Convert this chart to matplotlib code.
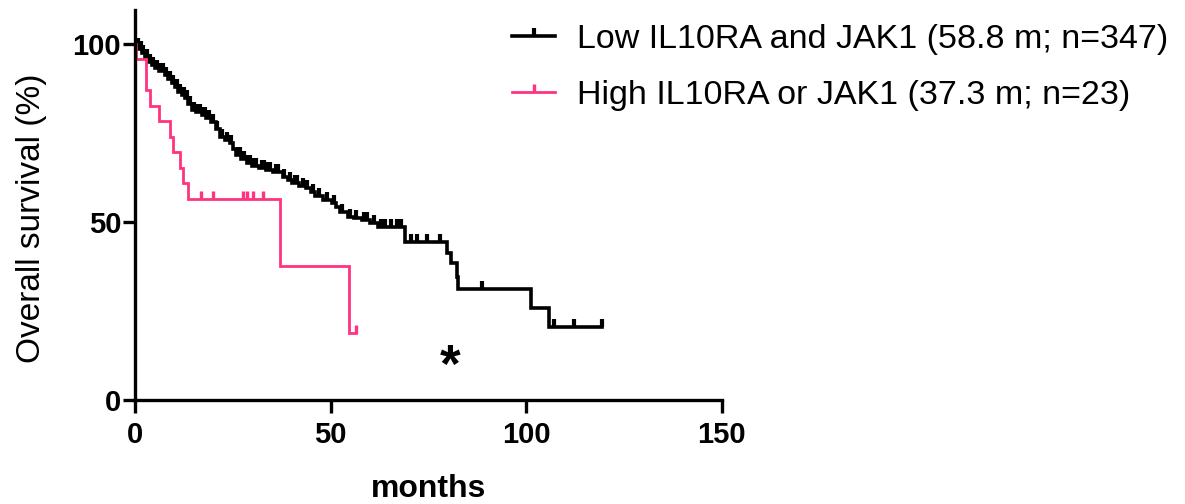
import numpy as np
import matplotlib
matplotlib.use('Agg')
import matplotlib.pyplot as plt
from matplotlib.path import Path
from matplotlib.lines import Line2D

plt.rcParams['font.family'] = ['Liberation Sans', 'DejaVu Sans']

# Low IL10RA and JAK1: event times (months) and survival (%) after each step
low_t = [0, 0.5, 1.0, 1.8, 2.5, 3.5, 4.3, 5.2, 6.2, 7.7, 8.5, 9.4, 10.2, 11.1, 12.0,
         12.8, 13.6, 14.5, 15.5, 17.0, 18.2, 19.5, 20.6, 21.7, 23.0, 24.2, 25.0, 25.9,
         27.2, 28.5, 30.0, 31.8, 33.5, 35.2, 37.7, 39.0, 40.2, 42.0, 43.6, 45.0, 46.1,
         48.0, 50.3, 51.5, 52.4, 54.5, 56.0, 57.9, 60.0, 62.1, 69.0, 79.8, 80.9, 82.2,
         82.7, 101.3, 105.9]
low_s = [100, 99.4, 98.5, 97.4, 96.3, 95.0, 94.1, 93.2, 92.3, 91.3, 90.2, 89.0, 87.8,
         86.6, 85.6, 84.7, 83.1, 81.5, 80.8, 80.0, 79.1, 78.2, 76.0, 73.9, 73.0, 72.1,
         70.5, 68.8, 67.6, 66.5, 65.8, 65.1, 64.6, 64.1, 62.7, 61.8, 60.9, 60.2, 59.5,
         58.4, 57.3, 56.3, 55.3, 54.1, 52.9, 51.5, 51.0, 50.6, 49.6, 48.7, 44.5, 41.2,
         38.4, 34.6, 31.1, 25.9, 20.6]
low_cens = [0.8, 1.4, 2.1, 3.0, 3.9, 4.7, 5.6, 6.6, 7.1, 8.0, 9.0, 9.8, 10.6, 11.5, 12.4,
            13.2, 14.0, 15.0, 16.0, 16.5, 17.5, 18.0, 18.7, 19.0, 20.0, 21.0, 22.3, 23.5,
            24.6, 26.3, 26.8, 27.8, 29.0, 29.5, 30.5, 31.0, 32.5, 33.0, 34.0, 34.5, 36.0,
            36.5, 38.2, 39.5, 41.0, 41.5, 43.0, 44.0, 45.5, 47.0, 49.0, 50.8, 53.0, 55.0,
            56.5, 58.5, 59.2, 61.0, 63.0, 64.0, 65.5, 67.0, 68.0, 70.5, 72.2, 74.7, 78.0,
            88.6, 107.2, 112.3, 119.4]

# High IL10RA or JAK1
high_t = [0, 0.3, 2.85, 3.7, 6.1, 8.8, 9.7, 11.5, 12.2, 13.5, 37.0, 54.8]
high_s = [100, 95.7, 87.0, 82.6, 78.3, 73.9, 69.6, 65.2, 60.9, 56.5, 37.7, 18.8]
high_cens = [16.9, 19.8, 27.6, 28.5, 30.1, 32.6, 56.5]

labels = ['Low IL10RA and JAK1 (58.8 m; n=347)', 'High IL10RA or JAK1 (37.3 m; n=23)']
colors = ['black', '#FF3380']
widths = [2.6, 2.0]

tick = Path([(0, 0), (0, 1)], [Path.MOVETO, Path.LINETO])

fig = plt.figure(figsize=(11.85, 5.04), dpi=100)
ax = fig.add_axes([0.114, 0.206, 0.495, 0.774])

handles = []
for t, s, c, col, lw, lab in [(low_t, low_s, low_cens, colors[0], widths[0], labels[0]),
                              (high_t, high_s, high_cens, colors[1], widths[1], labels[1])]:
    t = np.array(t)
    s = np.array(s)
    end = max(c)
    ax.step(np.append(t, end), np.append(s, s[-1]), where='post', color=col, lw=lw,
            solid_joinstyle='miter')
    idx = np.searchsorted(t, c, side='right') - 1
    ax.plot(c, s[idx], ls='none', marker=tick, markersize=11, mew=lw + 0.4, color=col)
    handles.append(Line2D([], [], color=col, lw=lw, marker=tick, markersize=11,
                          mew=lw + 0.4))

ax.text(80.5, 9, '*', fontsize=38, fontweight='bold', ha='center', va='center')

ax.set_xlim(0, 150)
ax.set_ylim(0, 109.5)
ax.set_xticks([0, 50, 100, 150])
ax.set_yticks([0, 50, 100])
for sp in ['top', 'right']:
    ax.spines[sp].set_visible(False)
for sp in ['left', 'bottom']:
    ax.spines[sp].set_linewidth(2.4)
ax.tick_params(width=2.4, length=9, labelsize=21)
ax.tick_params(axis='x', pad=6)
ax.tick_params(axis='y', pad=1)
for lbl in ax.get_xticklabels() + ax.get_yticklabels():
    lbl.set_fontweight('bold')
ax.set_xlabel('months', fontsize=23, fontweight='bold')
ax.xaxis.set_label_coords(0.5, -0.19)
ax.set_ylabel('Overall survival (%)', fontsize=24)
ax.yaxis.set_label_coords(-0.15, 0.467)

ax.legend(handles, labels, loc='upper left', bbox_to_anchor=(0.432, 0.952),
          bbox_transform=fig.transFigure, frameon=False, fontsize=24.5, numpoints=1,
          handlelength=1.27, handletextpad=0.65, labelspacing=0.72,
          borderaxespad=0, borderpad=0)

fig.savefig('out.png', dpi=100)
